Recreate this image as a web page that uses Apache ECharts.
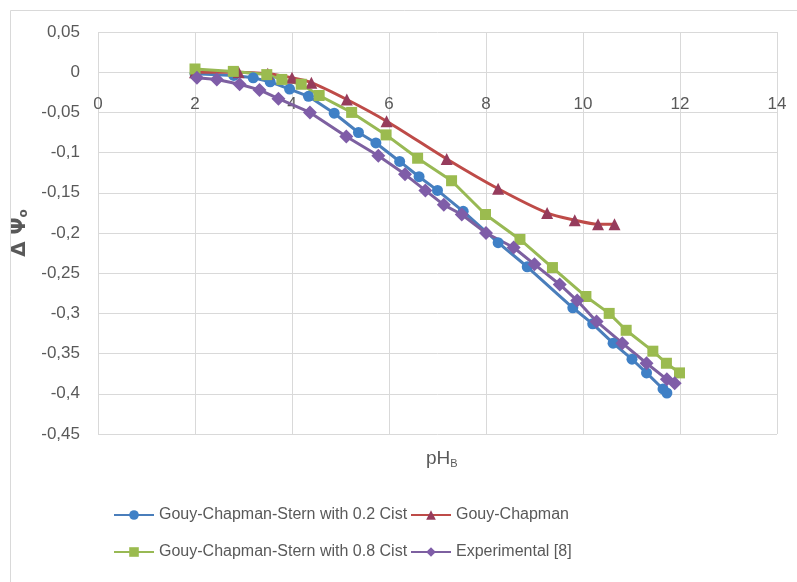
<!DOCTYPE html>
<html>
<head>
<meta charset="utf-8">
<script src="https://cdn.jsdelivr.net/npm/echarts@6/dist/echarts.min.js"></script>
<style>
  html, body { margin: 0; padding: 0; background: #fff; }
  #main { width: 797px; height: 582px; }
</style>
</head>
<body>
<div id="main"></div>
<script>
// pH_B values and delta psi values
const gcs02X = [2.0, 2.8, 3.2, 3.55, 3.95, 4.34, 4.87, 5.37, 5.73, 6.22, 6.62, 7.0, 7.53, 8.25, 8.85, 9.79, 10.2, 10.62, 11.01, 11.31, 11.65, 11.73];
const gcs02Y = [-0.002, -0.004, -0.007, -0.012, -0.021, -0.030, -0.051, -0.075, -0.088, -0.111, -0.130, -0.147, -0.173, -0.212, -0.242, -0.293, -0.313, -0.337, -0.357, -0.374, -0.394, -0.399];

const gcX = [2.0, 2.9, 3.5, 4.0, 4.4, 5.13, 5.95, 7.19, 8.25, 9.26, 9.83, 10.31, 10.65];
const gcY = [0.0, 0.0, -0.002, -0.007, -0.013, -0.034, -0.061, -0.108, -0.145, -0.175, -0.184, -0.189, -0.189];

const gcs08X = [2.0, 2.79, 3.48, 3.79, 4.19, 4.56, 5.23, 5.94, 6.59, 7.29, 7.99, 8.70, 9.37, 10.06, 10.54, 10.89, 11.44, 11.72, 11.99];
const gcs08Y = [0.004, 0.001, -0.003, -0.009, -0.015, -0.029, -0.050, -0.078, -0.107, -0.135, -0.177, -0.208, -0.243, -0.279, -0.300, -0.321, -0.347, -0.362, -0.374];

const expX = [2.04, 2.45, 2.92, 3.33, 3.72, 4.37, 5.12, 5.78, 6.33, 6.75, 7.13, 7.5, 8.0, 8.57, 9.0, 9.52, 9.88, 10.28, 10.81, 11.31, 11.73, 11.89];
const expY = [-0.007, -0.009, -0.015, -0.022, -0.033, -0.050, -0.080, -0.104, -0.127, -0.147, -0.165, -0.177, -0.200, -0.218, -0.239, -0.264, -0.284, -0.310, -0.337, -0.362, -0.382, -0.387];

const seriesNames = ['Gouy-Chapman-Stern with 0.2 Cist', 'Gouy-Chapman', 'Gouy-Chapman-Stern with 0.8 Cist', 'Experimental [8]'];

const FONT = 'Liberation Sans, Arial, sans-serif';
const GREY = '#595959';

function pairs(xs, ys) {
  return xs.map((x, i) => [x, ys[i]]);
}

function fmtComma(v) {
  let s = (Math.round(v * 100) / 100).toString();
  return s.replace('.', ',');
}

let myChart = echarts.init(document.getElementById('main'), null, { renderer: 'canvas' });

const option = {
  animation: false,
  backgroundColor: '#fff',
  textStyle: { fontFamily: FONT },
  graphic: [{
    type: 'rect',
    shape: { x: 10.5, y: 10.5, width: 800, height: 600 },
    style: { fill: 'none', stroke: '#d9d9d9', lineWidth: 1 },
    silent: true
  }],
  title: {
    text: 'pH{sub|B}', left: 421, top: 444,
    textStyle: {
      fontSize: 19, fontWeight: 'normal', color: GREY, fontFamily: FONT,
      rich: { sub: { fontSize: 11, color: GREY, fontFamily: FONT, padding: [9, 0, 0, 0] } }
    }
  },
  grid: { left: 98, right: 20, top: 32, bottom: 148 },
  legend: [
    { data: [seriesNames[0]], left: 113, top: 507 },
    { data: [seriesNames[1]], left: 410, top: 507 },
    { data: [seriesNames[2]], left: 113, top: 544 },
    { data: [seriesNames[3]], left: 410, top: 544 }
  ].map(l => Object.assign(l, {
    itemWidth: 40, itemHeight: 12, padding: 0,
    textStyle: { fontFamily: FONT, fontSize: 16, color: GREY }
  })),
  // tick labels sit just under the zero line, as in the source chart
  xAxis: {
    type: 'value', min: 0, max: 14, interval: 2, position: 'top',
    axisLine: { show: false, onZero: false },
    axisTick: { show: false },
    axisLabel: { inside: true, margin: 64, fontSize: 17, color: GREY, fontFamily: FONT },
    splitLine: { show: true, lineStyle: { color: '#d9d9d9', width: 1 } }
  },
  yAxis: {
    type: 'value', min: -0.45, max: 0.05, interval: 0.05,
    axisLine: { show: false, onZero: false },
    axisTick: { show: false },
    axisLabel: { margin: 18, fontSize: 17, color: GREY, fontFamily: FONT, formatter: fmtComma },
    splitLine: { show: true, lineStyle: { color: '#d9d9d9', width: 1 } },
    name: 'Δ Ψ{sub|o}', nameLocation: 'middle', nameGap: 62,
    nameTextStyle: {
      fontSize: 20, fontWeight: 'bold', color: GREY, fontFamily: 'DejaVu Sans',
      rich: { sub: { fontSize: 12, color: GREY, fontFamily: 'DejaVu Sans', padding: [10, 0, 0, 0] } }
    }
  },
  series: [
    {
      name: seriesNames[0], type: 'line', data: pairs(gcs02X, gcs02Y),
      symbol: 'circle', symbolSize: 11,
      lineStyle: { color: '#4a7ebb', width: 3 },
      itemStyle: { color: '#3f80c6' }
    },
    {
      name: seriesNames[1], type: 'line', data: pairs(gcX, gcY), smooth: 0.3,
      symbol: 'triangle', symbolSize: 12,
      lineStyle: { color: '#be4b48', width: 3 },
      itemStyle: { color: '#963c5c' }
    },
    {
      name: seriesNames[2], type: 'line', data: pairs(gcs08X, gcs08Y),
      symbol: 'rect', symbolSize: 11,
      lineStyle: { color: '#98b954', width: 3 },
      itemStyle: { color: '#9bbb4f' }
    },
    {
      name: seriesNames[3], type: 'line', data: pairs(expX, expY),
      symbol: 'diamond', symbolSize: 14,
      lineStyle: { color: '#7d60a0', width: 3 },
      itemStyle: { color: '#7f5da8' }
    }
  ]
};
myChart.setOption(option);
</script>
</body>
</html>
